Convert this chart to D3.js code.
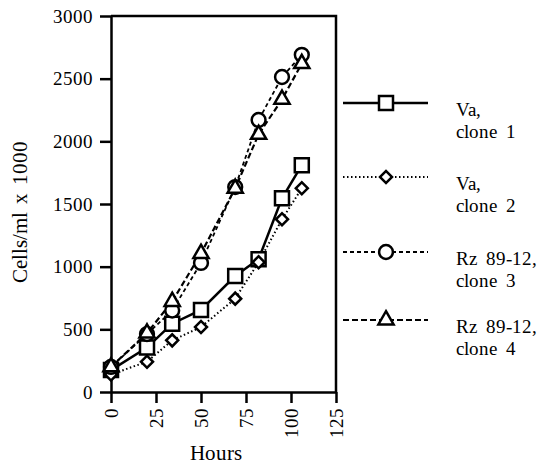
<!DOCTYPE html>
<html>
<head>
<meta charset="utf-8">
<script src="https://cdn.jsdelivr.net/npm/d3@7"></script>
<style>
  @font-face {
    font-family: "ChartSerif";
    src: local("Liberation Serif"), local("LiberationSerif"), local("LiberationSerif-Regular"), local("Times New Roman");
  }
  body { margin: 0; background: #fff; }
  #wrapper svg text { font-family: "ChartSerif", "Liberation Serif", "Times New Roman", serif; }
</style>
</head>
<body>
<div id="wrapper"></div>
<script>
// Data
const hours = [0, 20, 34, 50, 69, 82, 95, 106];
const vaClone1 = [175, 355, 545, 655, 925, 1060, 1545, 1810];
const vaClone2 = [140, 242, 412, 518, 745, 1035, 1378, 1625];
const rzClone3 = [200, 462, 650, 1030, 1635, 2170, 2513, 2690];
const rzClone4 = [200, 470, 722, 1105, 1625, 2055, 2335, 2620];
const seriesNames = [["Va,", "clone 1"], ["Va,", "clone 2"], ["Rz 89-12,", "clone 3"], ["Rz 89-12,", "clone 4"]];
const xTicks = [0, 25, 50, 75, 100, 125];
const yTicks = [0, 500, 1000, 1500, 2000, 2500, 3000];

const series = [
  { name: seriesNames[0], values: vaClone1, symbol: d3.symbolSquare, size: 196, rot: 0, dash: null, width: 2.5 },
  { name: seriesNames[1], values: vaClone2, symbol: d3.symbolSquare, size: 72, rot: 45, dash: "1.5,2.5", width: 2 },
  { name: seriesNames[2], values: rzClone3, symbol: d3.symbolCircle, size: 150, rot: 0, dash: "4,3", width: 1.8 },
  { name: seriesNames[3], values: rzClone4, symbol: d3.symbolTriangle, size: 100, rot: 0, dash: "6,3", width: 2.2 },
];

const serif = "ChartSerif, Liberation Serif, Times New Roman, serif";

const dimensions = {
  width: 537,
  height: 466,
  margin: { top: 16, left: 111 },
  boundedWidth: 225,
  boundedHeight: 376,
};

const svg = d3.select("#wrapper").append("svg")
  .attr("width", dimensions.width)
  .attr("height", dimensions.height)
  .attr("font-family", serif);

const bounds = svg.append("g")
  .attr("transform", `translate(${dimensions.margin.left},${dimensions.margin.top})`);

// Scales
const xScale = d3.scaleLinear().domain([0, 125]).range([0, dimensions.boundedWidth]);
const yScale = d3.scaleLinear().domain([0, 3000]).range([dimensions.boundedHeight, 0]);

// Frame (top and right)
bounds.append("path")
  .attr("d", `M${xScale(0)},${yScale(3000)}H${xScale(125)}V${yScale(0)}`)
  .attr("fill", "none").attr("stroke", "#000").attr("stroke-width", 2.5);

// Axes
const xAxis = bounds.append("g")
  .attr("transform", `translate(0,${dimensions.boundedHeight})`)
  .call(d3.axisBottom(xScale).tickValues(xTicks).tickFormat(d3.format("d"))
    .tickSize(11).tickSizeOuter(0))
  .attr("font-family", serif)
  .attr("font-size", 19);
xAxis.select(".domain").attr("stroke-width", 2.5);
xAxis.selectAll(".tick line").attr("stroke-width", 2.5);
xAxis.selectAll(".tick text")
  .attr("font-family", serif)
  .attr("fill", "#000")
  .attr("transform", "rotate(-90)")
  .attr("text-anchor", "end")
  .attr("x", -16)
  .attr("y", 0)
  .attr("dy", "0.35em");

const yAxis = bounds.append("g")
  .call(d3.axisLeft(yScale).tickValues(yTicks).tickFormat(d3.format("d"))
    .tickSize(11).tickSizeOuter(0).tickPadding(7))
  .attr("font-family", serif)
  .attr("font-size", 19);
yAxis.select(".domain").attr("stroke-width", 2.5);
yAxis.selectAll(".tick line").attr("stroke-width", 2.5);
yAxis.selectAll(".tick text")
  .attr("font-family", serif)
  .attr("fill", "#000");

// Axis titles
svg.append("text")
  .attr("transform", "translate(27,212) rotate(-90)")
  .attr("text-anchor", "middle")
  .attr("font-family", serif)
  .attr("font-size", 21)
  .attr("word-spacing", 3)
  .text("Cells/ml x 1000");
svg.append("text")
  .attr("x", 216).attr("y", 460)
  .attr("text-anchor", "middle")
  .attr("font-family", serif)
  .attr("font-size", 21)
  .text("Hours");

// Lines and markers
const lineGenerator = d3.line()
  .x((d, i) => xScale(hours[i]))
  .y((d) => yScale(d));

series.forEach((s) => {
  bounds.append("path")
    .attr("d", lineGenerator(s.values))
    .attr("fill", "none")
    .attr("stroke", "#000")
    .attr("stroke-width", s.width)
    .attr("stroke-dasharray", s.dash);
});

series.forEach((s) => {
  bounds.selectAll(null)
    .data(s.values)
    .enter()
    .append("path")
    .attr("d", d3.symbol(s.symbol, s.size))
    .attr("transform", (d, i) => `translate(${xScale(hours[i])},${yScale(d)}) rotate(${s.rot})`)
    .attr("fill", "#fff")
    .attr("stroke", "#000")
    .attr("stroke-width", 2.5);
});

// Legend
const legend = svg.append("g").attr("transform", "translate(343,0)");
const legendY = [103, 177, 252, 320];
series.forEach((s, i) => {
  const g = legend.append("g").attr("transform", `translate(0,${legendY[i]})`);
  g.append("line")
    .attr("x1", 0).attr("x2", 85)
    .attr("stroke", "#000")
    .attr("stroke-width", s.width)
    .attr("stroke-dasharray", s.dash);
  g.append("path")
    .attr("d", d3.symbol(s.symbol, s.size))
    .attr("transform", `translate(43,0) rotate(${s.rot})`)
    .attr("fill", "#fff")
    .attr("stroke", "#000")
    .attr("stroke-width", 2.5);
  g.append("text").attr("x", 113).attr("y", 13)
    .attr("font-family", serif).attr("font-size", 19).attr("word-spacing", 4).text(s.name[0]);
  g.append("text").attr("x", 113).attr("y", 35)
    .attr("font-family", serif).attr("font-size", 19).attr("word-spacing", 4).text(s.name[1]);
});
</script>
</body>
</html>
